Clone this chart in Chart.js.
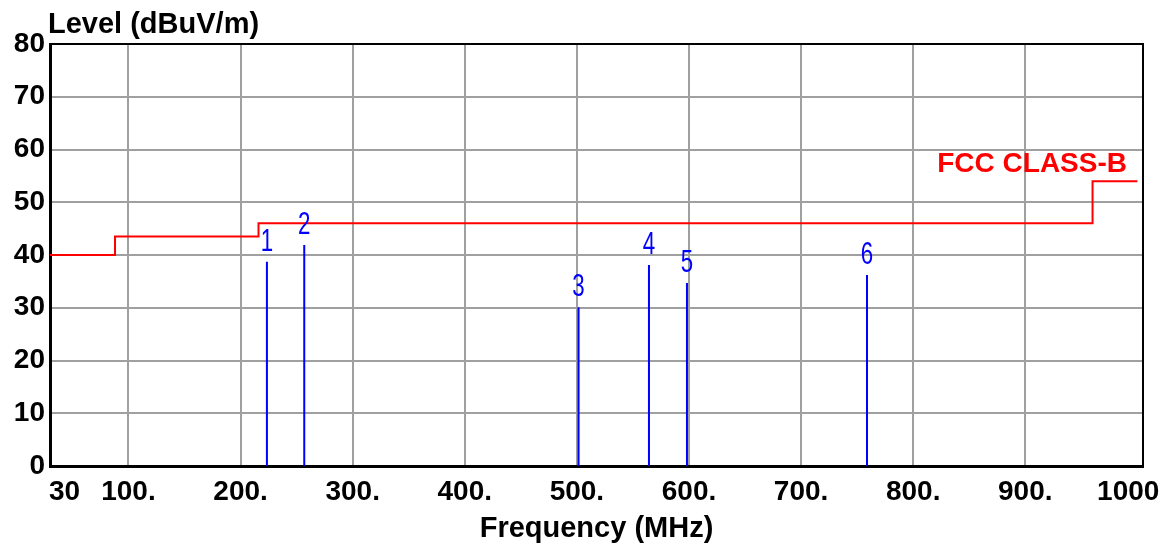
<!DOCTYPE html>
<html>
<head>
<meta charset="utf-8">
<title>Level vs Frequency</title>
<script src="https://cdn.jsdelivr.net/npm/chart.js@4/dist/chart.umd.min.js"></script>
<style>
  html, body { margin: 0; padding: 0; background: #fff; }
  #chart { display: block; }
</style>
</head>
<body>
<canvas id="chart" width="1171" height="548"></canvas>
<script>
// Measured peaks (MHz, dBuV/m)
const peakFreq = [223.5, 256.8, 501.5, 564.3, 598.2, 758.8];
const peakLevel = [38.7, 41.9, 30.1, 38.1, 34.7, 36.2];
const peakLabels = ['1', '2', '3', '4', '5', '6'];

// FCC class B limit steps
const limitFreq = [30, 88, 216, 960, 1000];
const limitLevel = [40, 43.5, 46, 54, 54];
const limitName = 'FCC CLASS-B';

const xTickValues = [30, 100, 200, 300, 400, 500, 600, 700, 800, 900, 1000];
const xTickLabels = ['30', '100.', '200.', '300.', '400.', '500.', '600.', '700.', '800.', '900.', '1000'];
const xMin = 30;
const xMax = 1005;
const yMin = 0;
const yMax = 80;
const yStep = 10;

const yTitle = 'Level (dBuV/m)';
const xTitle = 'Frequency (MHz)';

const BOLD = 'bold 28px "Liberation Sans", Arial, sans-serif';
const GRID = 'rgb(160,160,160)';

// vertical sticks from 0 up to each level, broken by null gaps
function buildPeakData() {
  const pts = [];
  peakFreq.forEach((f, i) => {
    pts.push({ x: f, y: 0 });
    pts.push({ x: f, y: peakLevel[i] });
    pts.push({ x: f, y: null });
  });
  return pts;
}

const textPlugin = {
  id: 'texts',
  afterDraw(chart) {
    const { ctx, chartArea } = chart;
    const xs = chart.scales.x;
    const ys = chart.scales.y;

    ctx.save();
    // top + right frame
    ctx.strokeStyle = '#000';
    ctx.lineWidth = 2;
    ctx.beginPath();
    ctx.moveTo(chartArea.left, chartArea.top);
    ctx.lineTo(chartArea.right, chartArea.top);
    ctx.lineTo(chartArea.right, chartArea.bottom);
    ctx.stroke();

    // x tick labels
    ctx.fillStyle = '#000';
    ctx.font = BOLD;
    ctx.textBaseline = 'alphabetic';
    xTickValues.forEach((v, i) => {
      let px = xs.getPixelForValue(v);
      if (i === 0) {
        ctx.textAlign = 'left';
        px -= 1;
      } else if (i === xTickValues.length - 1) {
        ctx.textAlign = 'right';
        px += 22;
      } else {
        ctx.textAlign = 'center';
      }
      ctx.fillText(xTickLabels[i], px, 500);
    });

    // axis titles
    ctx.font = 'bold 29px "Liberation Sans", Arial, sans-serif';
    ctx.textAlign = 'left';
    ctx.fillText(yTitle, 48, 33);
    ctx.textAlign = 'center';
    ctx.fillText(xTitle, (chartArea.left + chartArea.right) / 2, 537);

    // limit name
    ctx.fillStyle = '#ff0000';
    ctx.font = BOLD;
    ctx.textAlign = 'right';
    ctx.fillText(limitName, chartArea.right - 16, ys.getPixelForValue(limitLevel[limitLevel.length - 1]) - 9);

    // peak numbers, narrow blue digits
    ctx.fillStyle = '#0000ff';
    ctx.font = '31px "Liberation Sans", Arial, sans-serif';
    ctx.textAlign = 'center';
    peakFreq.forEach((f, i) => {
      const px = xs.getPixelForValue(f);
      const py = ys.getPixelForValue(peakLevel[i]) - 11;
      ctx.save();
      ctx.translate(px, py);
      ctx.scale(0.72, 1);
      ctx.fillText(peakLabels[i], 0, 0);
      ctx.restore();
    });
    ctx.restore();
  },
};

new Chart(document.getElementById('chart').getContext('2d'), {
  type: 'line',
  data: {
    datasets: [
      {
        label: limitName,
        data: limitFreq.map((f, i) => ({ x: f, y: limitLevel[i] })),
        borderColor: '#ff0000',
        borderWidth: 2,
        stepped: 'before',
        pointRadius: 0,
        fill: false,
      },
      {
        label: 'Peaks',
        data: buildPeakData(),
        borderColor: '#0000ff',
        borderWidth: 2,
        pointRadius: 0,
        spanGaps: false,
        fill: false,
      },
    ],
  },
  options: {
    responsive: false,
    animation: false,
    events: [],
    layout: { padding: { top: 44, right: 28, left: 0, bottom: 0 } },
    plugins: {
      legend: { display: false },
      tooltip: { enabled: false },
    },
    scales: {
      x: {
        type: 'linear',
        min: xMin,
        max: xMax,
        afterBuildTicks: (scale) => {
          scale.ticks = xTickValues.map((v) => ({ value: v }));
        },
        afterFit: (scale) => {
          scale.height = 82;
        },
        ticks: { display: false },
        grid: {
          // no grid line on the end ticks, the frame covers them
          color: (c) => (c.tick && (c.tick.value === xMin || c.tick.value === 1000) ? 'rgba(0,0,0,0)' : GRID),
          lineWidth: 2,
          drawTicks: false,
        },
        border: { display: true, color: '#000', width: 3 },
      },
      y: {
        min: yMin,
        max: yMax,
        afterFit: (scale) => {
          scale.width = 50;
        },
        ticks: {
          stepSize: yStep,
          color: '#000',
          padding: 5,
          font: { family: '"Liberation Sans", Arial, sans-serif', size: 28, weight: 'bold' },
        },
        grid: { color: GRID, lineWidth: 2, drawTicks: false },
        border: { display: true, color: '#000', width: 3 },
      },
    },
  },
  plugins: [textPlugin],
});
</script>
</body>
</html>
